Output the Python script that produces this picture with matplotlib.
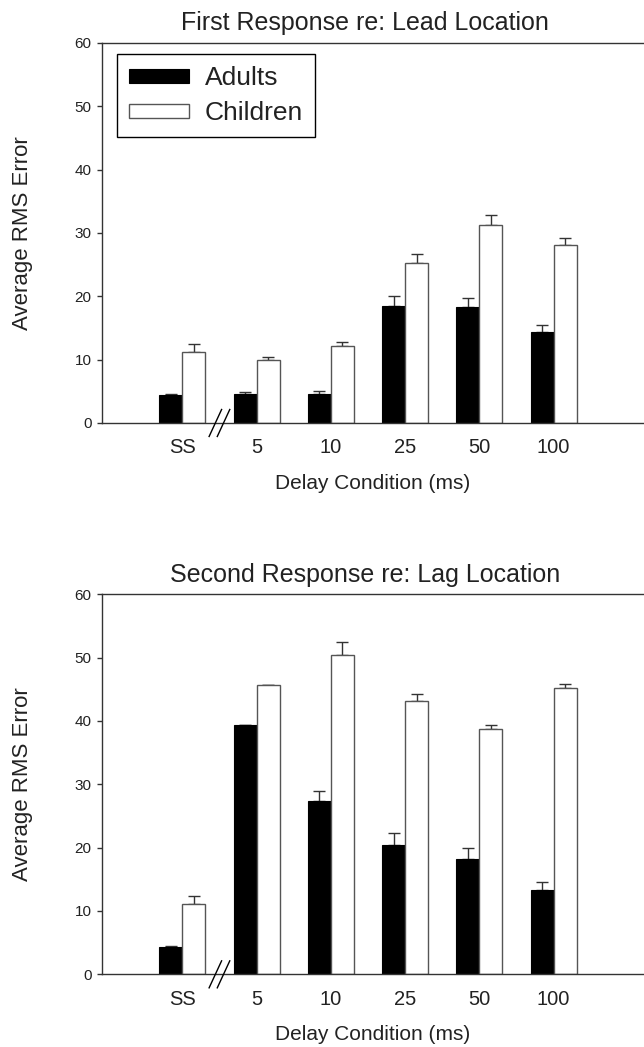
import numpy as np
import matplotlib
matplotlib.use("Agg")
import matplotlib.pyplot as plt
import matplotlib.transforms as mtransforms

plt.rcParams['font.family'] = ['Liberation Sans', 'DejaVu Sans']

conditions = ['SS', '5', '10', '25', '50', '100']

# first response (lead location)
lead_adults = [4.35, 4.6, 4.6, 18.5, 18.3, 14.3]
lead_adults_err = [0.15, 0.25, 0.5, 1.55, 1.5, 1.1]
lead_children = [11.15, 9.95, 12.2, 25.25, 31.3, 28.1]
lead_children_err = [1.3, 0.45, 0.65, 1.35, 1.6, 1.1]

# second response (lag location)
lag_adults = [4.35, 39.4, 27.4, 20.4, 18.25, 13.25]
lag_adults_err = [0.15, 0.0, 1.5, 1.9, 1.65, 1.25]
lag_children = [11.15, 45.7, 50.4, 43.1, 38.8, 45.2]
lag_children_err = [1.25, 0.0, 2.1, 1.2, 0.5, 0.7]

spine_col = '#333333'
text_col = '#222222'
bw = 0.31


def draw_panel(ax, title, adults, adults_err, children, children_err, legend=False):
    x = np.arange(len(conditions))
    ax.bar(x - bw / 2, adults, bw, color='black', edgecolor='black', lw=0.8,
           label='Adults', zorder=2)
    ax.bar(x + bw / 2, children, bw, color='white', edgecolor='#555555', lw=1.0,
           label='Children', zorder=2)
    # only the upper half of the error bars is drawn
    ax.errorbar(x - bw / 2, adults, yerr=[np.zeros(len(x)), adults_err], fmt='none',
                ecolor=spine_col, elinewidth=1, capsize=4.3, capthick=1, zorder=1)
    ax.errorbar(x + bw / 2, children, yerr=[np.zeros(len(x)), children_err], fmt='none',
                ecolor=spine_col, elinewidth=1, capsize=4.3, capthick=1, zorder=1)

    ax.set_xlim(-1.081, 6.216)
    ax.set_ylim(0, 60)
    ax.set_yticks(range(0, 61, 10))
    ax.set_xticks(x)
    ax.set_xticklabels(conditions)
    ax.tick_params(axis='x', length=0, pad=11, labelsize=14.5, labelcolor=text_col)
    ax.tick_params(axis='y', direction='out', length=3.6, width=1, color=spine_col,
                   pad=4, labelsize=11, labelcolor=text_col)
    ax.spines['right'].set_visible(False)
    for s in ['top', 'left', 'bottom']:
        ax.spines[s].set_color(spine_col)
        ax.spines[s].set_linewidth(1)

    ax.set_title(title, fontsize=18, color=text_col, x=0.485, pad=9)
    ax.set_xlabel('Delay Condition (ms)', fontsize=15, color=text_col, labelpad=12)
    ax.set_ylabel('Average RMS Error', fontsize=16, color=text_col, labelpad=30)

    # axis break marks between SS and 5
    trans = mtransforms.blended_transform_factory(ax.transData, ax.transAxes)
    for cx in [0.445, 0.555]:
        ax.plot([cx - 0.084, cx + 0.084], [-0.0355, 0.0355], color='black', lw=1,
                transform=trans, clip_on=False, zorder=5)

    if legend:
        leg = ax.legend(loc='upper left', bbox_to_anchor=(0.027, 0.97), borderaxespad=0,
                        fontsize=19, handlelength=2.3, handleheight=0.44,
                        handletextpad=0.6, labelspacing=0.42, borderpad=0.45,
                        fancybox=False, framealpha=1, edgecolor='black')
        leg.get_frame().set_linewidth(1)
        for t in leg.get_texts():
            t.set_color(text_col)


fig = plt.figure(figsize=(6.44, 10.47), dpi=100)
ax1 = fig.add_axes([0.1584, 0.596, 0.8416, 0.363])
ax2 = fig.add_axes([0.1584, 0.0694, 0.8416, 0.363])

draw_panel(ax1, 'First Response re: Lead Location', lead_adults, lead_adults_err,
           lead_children, lead_children_err, legend=True)
draw_panel(ax2, 'Second Response re: Lag Location', lag_adults, lag_adults_err,
           lag_children, lag_children_err)

fig.savefig('out.png', dpi=100)
